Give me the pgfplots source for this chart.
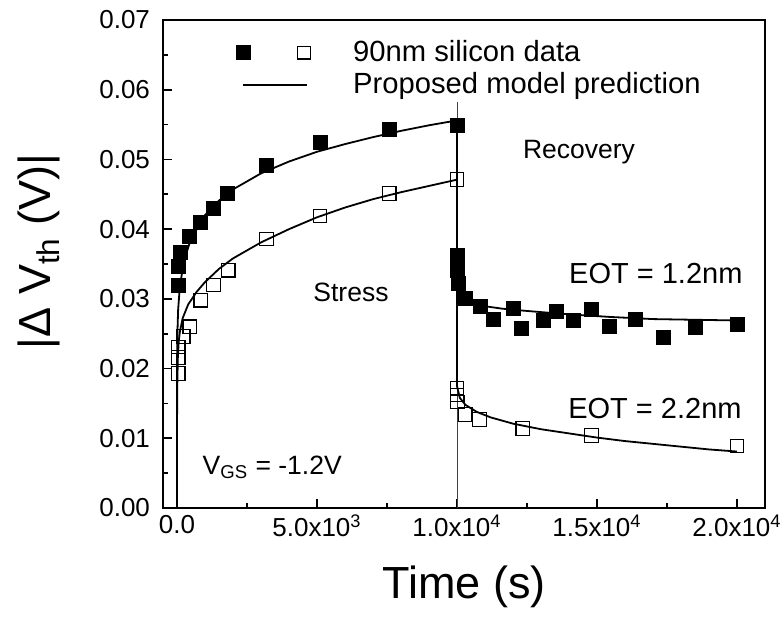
\documentclass[border=0pt]{standalone}
\usepackage{fontspec}
\setmainfont{Liberation Sans}
\usepackage{pgfplots}
\pgfplotsset{compat=1.18}

\begin{document}
\begin{tikzpicture}
\useasboundingbox (-81.5pt,-54.5pt) rectangle (310.5pt,254pt);
\begin{axis}[
  at={(0,0)}, anchor=south west,
  scale only axis, width=301pt, height=244pt,
  xmin=-500, xmax=21000, ymin=0, ymax=0.07,
  axis line style={line width=1pt},
  tick style={black, line width=0.8pt},
  major tick length=4.5pt, minor tick length=2.5pt,
  tick align=inside,
  xtick pos=left, ytick pos=left,
  xtick={0,5000,10000,15000,20000},
  xticklabels={0.0, 5.0x10\textsuperscript{3}, 1.0x10\textsuperscript{4}, 1.5x10\textsuperscript{4}, 2.0x10\textsuperscript{4}},
  minor x tick num=1,
  ytick={0,0.01,0.02,0.03,0.04,0.05,0.06,0.07},
  yticklabels={0.00,0.01,0.02,0.03,0.04,0.05,0.06,0.07},
  minor y tick num=1,
  scaled y ticks=false, scaled x ticks=false,
  tick label style={font=\fontsize{13}{15}\selectfont},
  yticklabel style={xshift=-3pt},
  xlabel={Time (s)},
  ylabel={|Δ V\textsubscript{th} (V)|},
  label style={font=\fontsize{22.5}{26}\selectfont},
  xlabel style={at={(axis description cs:0.5,-0.162)}, anchor=center},
  ylabel style={at={(axis description cs:-0.206,0.526)}, anchor=center},
  legend style={at={(axis description cs:0.11,0.975)}, anchor=north west,
    draw=none, fill=none, font=\fontsize{14.6}{17}\selectfont,
    row sep=0pt},
  legend cell align=left,
  clip=false,
]
% legend entries: both images share one bounding box
\addlegendimage{legend image code/.code={
  \path[draw=none,fill=none] (-3.8pt,-3.8pt) rectangle (34pt,3.8pt);
  \draw[black,fill=black] (-3.5pt,-3.5pt) rectangle (3.5pt,3.5pt);
  \draw[black,fill=white,line width=0.6pt] (27.3pt,-3.2pt) rectangle (33.7pt,3.2pt);
}}
\addlegendentry{\hspace*{19pt}90nm silicon data}
\addlegendimage{legend image code/.code={
  \path[draw=none,fill=none] (-3.8pt,-3.8pt) rectangle (34pt,3.8pt);
  \draw[black,line width=1pt] (0pt,0pt) -- (32pt,0pt);
}}
\addlegendentry{\hspace*{19pt}Proposed model prediction}

% guide line at the end of stress
\addplot[forget plot, black!75, line width=0.35pt] coordinates {(10000,0) (10000,0.0583)};

% model: EOT = 1.2nm
\addplot[forget plot, black, line width=0.9pt] coordinates {
  (0,0) (1,0.0181) (5,0.0220) (15,0.0251) (40,0.0284) (100,0.0317)
  (250,0.0355) (500,0.0386) (1000,0.0420) (1500,0.0441) (2000,0.0457)
  (3000,0.0480) (4000,0.0497) (5000,0.0511) (6000,0.0522) (7000,0.0532)
  (8000,0.0541) (9000,0.0549) (10000,0.0556)
  (10000,0.0305) (10100,0.0300) (10400,0.0295) (10900,0.0290) (11600,0.0286)
  (12400,0.0283) (13300,0.0280) (14300,0.0277) (15500,0.0274) (17000,0.0271)
  (18500,0.0270) (20000,0.0269)};

% model: EOT = 2.2nm
\addplot[forget plot, black, line width=0.9pt] coordinates {
  (0,0) (3,0.0130) (10,0.0175) (30,0.0215) (60,0.0238) (100,0.0252)
  (200,0.0272) (400,0.0292) (700,0.0310) (1000,0.0324) (1500,0.0343)
  (2000,0.0358) (3000,0.0381) (4000,0.0400) (5000,0.0417) (6000,0.0431)
  (7000,0.0443) (8000,0.0453) (9000,0.0462) (10000,0.0471)
  (10000,0.0175) (10100,0.0158) (10300,0.0148) (10700,0.0138) (11200,0.0130)
  (12000,0.0121) (13000,0.0113) (14000,0.0107) (15000,0.0101) (16000,0.0096)
  (17000,0.0092) (18000,0.0088) (19000,0.0084) (20000,0.0081)};

% data: EOT = 1.2nm
\addplot[forget plot, only marks, mark=square*, mark size=3.5pt,
  mark options={fill=black, draw=black}] coordinates {
  (40,0.0320) (40,0.0346) (120,0.0366) (460,0.0390) (850,0.0409)
  (1300,0.0430) (1810,0.0451) (3200,0.0492) (5110,0.0524) (7580,0.0543)
  (10000,0.0549)
  (10000,0.0363) (10020,0.0341) (10050,0.0322) (10290,0.0301) (10820,0.0289)
  (11300,0.0270) (12010,0.0286) (12310,0.0258) (13080,0.0269) (13560,0.0282)
  (14150,0.0269) (14810,0.0285) (15430,0.0261) (16360,0.0270) (17370,0.0245)
  (18500,0.0259) (20000,0.0263)};

% data: EOT = 2.2nm
\addplot[forget plot, only marks, mark=square, mark size=3.4pt,
  mark options={draw=black, fill=white, line width=0.6pt}] coordinates {
  (40,0.0193) (40,0.0216) (40,0.0231) (220,0.0246) (460,0.0260) (850,0.0298)
  (1300,0.0320) (1830,0.0341) (3200,0.0386) (5110,0.0419) (7580,0.0451)
  (10000,0.0471)
  (10000,0.0172) (10000,0.0162) (10020,0.0152) (10290,0.0134) (10800,0.0127)
  (12350,0.0114) (14810,0.0104) (20000,0.0089)};

% annotations
\node[font=\fontsize{13.25}{15}\selectfont] at (axis cs:14357,0.0511) {Recovery};
\node[font=\fontsize{13.25}{15}\selectfont] at (axis cs:6214,0.0310) {Stress};
\node[font=\fontsize{14.5}{17}\selectfont] at (axis cs:17100,0.0337) {EOT = 1.2nm};
\node[font=\fontsize{14.5}{17}\selectfont] at (axis cs:17070,0.0143) {EOT = 2.2nm};
\node[font=\fontsize{13.25}{15}\selectfont] at (axis cs:3400,0.0058) {V\textsubscript{GS} = -1.2V};
\end{axis}
\end{tikzpicture}
\end{document}
